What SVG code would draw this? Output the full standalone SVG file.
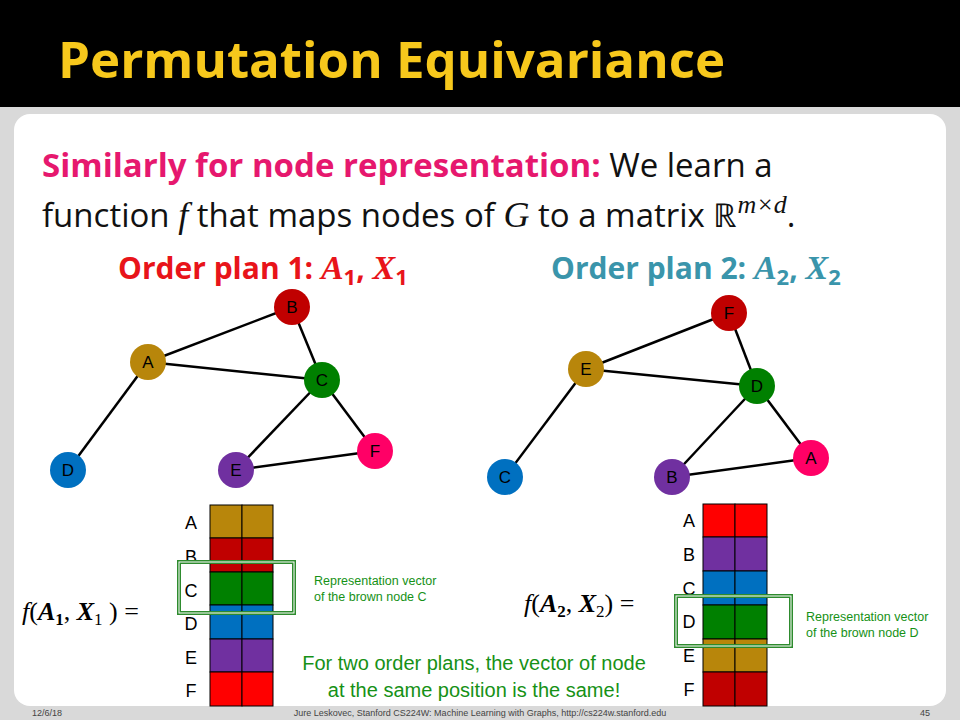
<svg xmlns="http://www.w3.org/2000/svg" width="960" height="720" viewBox="0 0 960 720">
<style>
.e{stroke:#000;stroke-width:2.5}
.n{font-family:"Liberation Sans",Arial,sans-serif;font-size:17px;text-anchor:middle}
.lab{font-family:"Liberation Sans",Arial,sans-serif;font-size:18px;text-anchor:middle}
.m{font-family:"Liberation Serif","DejaVu Serif",serif;font-style:italic}
.g{font-family:"Liberation Sans",Arial,sans-serif;fill:#169116}
.cell{stroke:#000;stroke-width:1}
</style>
<rect width="960" height="720" fill="#d9d9d9"/>
<rect width="960" height="107" fill="#000"/>
<text x="58" y="78" font-family="Open Sans,Liberation Sans,sans-serif" font-weight="bold" font-size="51" fill="#f7c81c">Permutation Equivariance</text>
<rect x="14" y="114" width="932" height="592" rx="16" fill="#fff"/>
<text x="42" y="177" font-family="Open Sans,Liberation Sans,sans-serif" font-size="33" fill="#111"><tspan fill="#e6186e" font-weight="bold">Similarly for node representation:</tspan> We learn a</text>
<text x="42" y="227" font-family="Open Sans,Liberation Sans,sans-serif" font-size="33" fill="#111">function <tspan class="m" font-size="36">f</tspan>  that maps nodes of <tspan class="m" font-size="36">G</tspan> to a matrix ℝ<tspan dy="-14" font-size="26" class="m">m×d</tspan><tspan dy="14">.</tspan></text>
<text x="118" y="279" font-family="Open Sans,Liberation Sans,sans-serif" font-weight="bold" font-size="30" fill="#e8141a">Order plan 1: <tspan class="m" font-size="34">A</tspan><tspan font-size="22" dy="6">1</tspan><tspan dy="-6">, </tspan><tspan class="m" font-size="34">X</tspan><tspan font-size="22" dy="6">1</tspan></text>
<text x="551" y="279" font-family="Open Sans,Liberation Sans,sans-serif" font-weight="bold" font-size="30" fill="#3a95ab">Order plan 2: <tspan class="m" font-size="34">A</tspan><tspan font-size="22" dy="6">2</tspan><tspan dy="-6">, </tspan><tspan class="m" font-size="34">X</tspan><tspan font-size="22" dy="6">2</tspan></text>
<g id="connectors">
<line class="e" x1="148" y1="362" x2="292" y2="307"/>
<line class="e" x1="148" y1="362" x2="322" y2="380"/>
<line class="e" x1="148" y1="362" x2="68" y2="470"/>
<line class="e" x1="292" y1="307" x2="322" y2="380"/>
<line class="e" x1="322" y1="380" x2="236" y2="470"/>
<line class="e" x1="322" y1="380" x2="375" y2="451"/>
<line class="e" x1="236" y1="470" x2="375" y2="451"/>
<line class="e" x1="586" y1="369" x2="729" y2="313"/>
<line class="e" x1="586" y1="369" x2="757" y2="386"/>
<line class="e" x1="586" y1="369" x2="505" y2="477"/>
<line class="e" x1="729" y1="313" x2="757" y2="386"/>
<line class="e" x1="757" y1="386" x2="672" y2="477"/>
<line class="e" x1="757" y1="386" x2="811" y2="458"/>
<line class="e" x1="672" y1="477" x2="811" y2="458"/>
</g>
<g id="n1A"><circle cx="148" cy="362" r="18" fill="#b8860b"/><text class="n" x="148" y="368">A</text></g>
<g id="n1B"><circle cx="292" cy="307" r="18" fill="#c00000"/><text class="n" x="292" y="313">B</text></g>
<g id="n1C"><circle cx="322" cy="380" r="18" fill="#008000"/><text class="n" x="322" y="386">C</text></g>
<g id="n1D"><circle cx="68" cy="470" r="18" fill="#0070c0"/><text class="n" x="68" y="476">D</text></g>
<g id="n1E"><circle cx="236" cy="470" r="18" fill="#7030a0"/><text class="n" x="236" y="476">E</text></g>
<g id="n1F"><circle cx="375" cy="451" r="18" fill="#ff0066"/><text class="n" x="375" y="457">F</text></g>
<g id="n2E"><circle cx="586" cy="369" r="18" fill="#b8860b"/><text class="n" x="586" y="375">E</text></g>
<g id="n2F"><circle cx="729" cy="313" r="18" fill="#c00000"/><text class="n" x="729" y="319">F</text></g>
<g id="n2D"><circle cx="757" cy="386" r="18" fill="#008000"/><text class="n" x="757" y="392">D</text></g>
<g id="n2C"><circle cx="505" cy="477" r="18" fill="#0070c0"/><text class="n" x="505" y="483">C</text></g>
<g id="n2B"><circle cx="672" cy="477" r="18" fill="#7030a0"/><text class="n" x="672" y="483">B</text></g>
<g id="n2A"><circle cx="811" cy="458" r="18" fill="#ff0066"/><text class="n" x="811" y="464">A</text></g>
<g id="matrix1">
<rect class="cell" x="210" y="505" width="32" height="33" fill="#b8860b"/><rect class="cell" x="242" y="505" width="31" height="33" fill="#b8860b"/>
<rect class="cell" x="210" y="538" width="32" height="34" fill="#c00000"/><rect class="cell" x="242" y="538" width="31" height="34" fill="#c00000"/>
<rect class="cell" x="210" y="572" width="32" height="33" fill="#008000"/><rect class="cell" x="242" y="572" width="31" height="33" fill="#008000"/>
<rect class="cell" x="210" y="605" width="32" height="34" fill="#0070c0"/><rect class="cell" x="242" y="605" width="31" height="34" fill="#0070c0"/>
<rect class="cell" x="210" y="639" width="32" height="33" fill="#7030a0"/><rect class="cell" x="242" y="639" width="31" height="33" fill="#7030a0"/>
<rect class="cell" x="210" y="672" width="32" height="34" fill="#ff0000"/><rect class="cell" x="242" y="672" width="31" height="34" fill="#ff0000"/>
<text class="lab" x="191" y="529">A</text><text class="lab" x="191" y="563">B</text><text class="lab" x="191" y="597">C</text><text class="lab" x="191" y="630">D</text><text class="lab" x="191" y="664">E</text><text class="lab" x="191" y="697">F</text>
<rect x="179" y="562" width="115" height="51" fill="none" stroke="#2e8b2e" stroke-width="4"/>
<rect x="179" y="562" width="115" height="51" fill="none" stroke="#fff" stroke-width="1"/>
<text x="22" y="620" class="m" font-size="26">f<tspan font-style="normal">(</tspan><tspan font-weight="bold">A</tspan><tspan font-size="17" dy="5" font-weight="bold" font-style="normal">1</tspan><tspan dy="-5" font-style="normal">, </tspan><tspan font-weight="bold">X</tspan><tspan font-size="17" dy="5" font-style="normal">1</tspan><tspan dy="-5" font-style="normal"> ) =</tspan></text>
<text class="g" x="314" y="585" font-size="12.5">Representation vector</text>
<text class="g" x="314" y="601" font-size="12.5">of the brown node C</text>
</g>
<g id="matrix2">
<rect class="cell" x="703" y="504" width="32" height="33" fill="#ff0000"/><rect class="cell" x="735" y="504" width="32" height="33" fill="#ff0000"/>
<rect class="cell" x="703" y="537" width="32" height="34" fill="#7030a0"/><rect class="cell" x="735" y="537" width="32" height="34" fill="#7030a0"/>
<rect class="cell" x="703" y="571" width="32" height="34" fill="#0070c0"/><rect class="cell" x="735" y="571" width="32" height="34" fill="#0070c0"/>
<rect class="cell" x="703" y="605" width="32" height="34" fill="#008000"/><rect class="cell" x="735" y="605" width="32" height="34" fill="#008000"/>
<rect class="cell" x="703" y="639" width="32" height="33" fill="#b8860b"/><rect class="cell" x="735" y="639" width="32" height="33" fill="#b8860b"/>
<rect class="cell" x="703" y="672" width="32" height="34" fill="#c00000"/><rect class="cell" x="735" y="672" width="32" height="34" fill="#c00000"/>
<text class="lab" x="689" y="527">A</text><text class="lab" x="689" y="561">B</text><text class="lab" x="689" y="595">C</text><text class="lab" x="689" y="628">D</text><text class="lab" x="689" y="662">E</text><text class="lab" x="689" y="696">F</text>
<rect x="676" y="596" width="115" height="50" fill="none" stroke="#2e8b2e" stroke-width="4"/>
<rect x="676" y="596" width="115" height="50" fill="none" stroke="#fff" stroke-width="1"/>
<text x="524" y="612" class="m" font-size="26">f<tspan font-style="normal">(</tspan><tspan font-weight="bold">A</tspan><tspan font-size="17" dy="5" font-weight="bold" font-style="normal">2</tspan><tspan dy="-5" font-style="normal">, </tspan><tspan font-weight="bold">X</tspan><tspan font-size="17" dy="5" font-style="normal">2</tspan><tspan dy="-5" font-style="normal">) =</tspan></text>
<text class="g" x="806" y="621" font-size="12.5">Representation vector</text>
<text class="g" x="806" y="637" font-size="12.5">of the brown node D</text>
</g>
<text class="g" x="474" y="670" font-size="20" text-anchor="middle">For two order plans, the vector of node</text>
<text class="g" x="474" y="697" font-size="20" text-anchor="middle">at the same position is the same!</text>
<g font-family="Liberation Sans,Arial,sans-serif" font-size="9" fill="#444">
<text x="32" y="716">12/6/18</text>
<text x="480" y="716" text-anchor="middle">Jure Leskovec, Stanford CS224W: Machine Learning with Graphs, http://cs224w.stanford.edu</text>
<text x="920" y="716">45</text>
</g>
</svg>
